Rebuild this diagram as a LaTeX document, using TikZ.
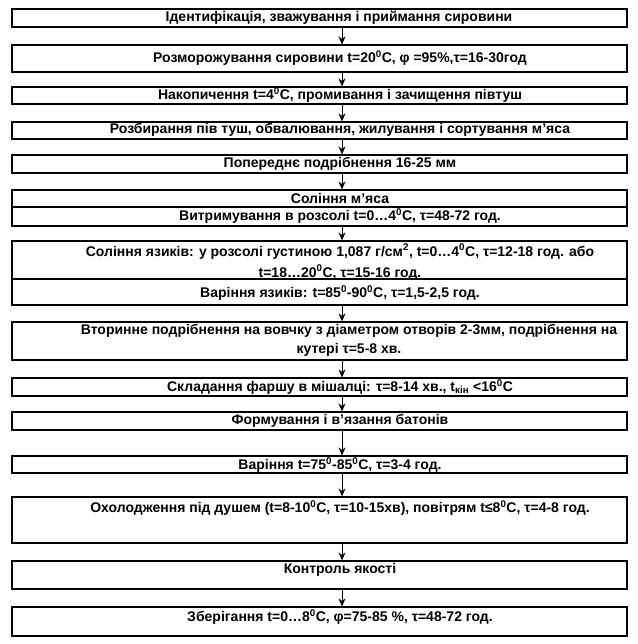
\documentclass[tikz,border=0pt]{standalone}
\usepackage{fontspec}
\setmainfont{Liberation Sans}
\usetikzlibrary{arrows.meta,positioning}
\tikzset{
    stagebox/.style={draw=black,line width=1.2pt,minimum width=615pt,inner sep=0pt},
    stagetext/.style={font=\bfseries\fontsize{14}{19}\selectfont,align=center,inner sep=0pt},
    flowarrow/.style={-{Stealth[length=8pt,width=7pt]},line width=1pt,draw=black}
}

\begin{document}
\begin{tikzpicture}[x=1pt,y=-1pt]
  \useasboundingbox (0,0) rectangle (637,644);

  % вісь стрілок
  \coordinate (ax) at (342,0);

  % рамки етапів: ім'я / верх / низ
  \foreach \n/\t/\b in {b1/9/27,b2/45/72,b3/87/104,b4/122/139,b5/155/173,
      b6/190/207,b7/207/226,b8/241/279,b9/279/305,b10/322/360,b11/378/396,
      b12/412/430,b13/456/473,b14/497/543,b15/561/589,b16/607/636}{
    \node[stagebox,minimum height={\b-\t}] (\n) at (319.5,{(\t+\b)/2}) {};
  }

  % написи
  \node[stagetext] (t1) at (339,18) {Ідентифікація, зважування і приймання сировини};
  \node[stagetext] (t2) at (340,58)
    {Розморожування сировини t=20\textsuperscript{0}С, φ =95\%,τ=16-30год};
  \node[stagetext] (t3) at (340,95)
    {Накопичення t=4\textsuperscript{0}С, промивання і зачищення півтуш};
  \node[stagetext] (t4) at (340,130)
    {Розбирання пів туш, обвалювання, жилування і сортування м’яса};
  \node[stagetext] (t5) at (340,164) {Попереднє подрібнення 16-25 мм};
  \node[stagetext] (t6) at (340,198) {Соління м’яса};
  \node[stagetext] (t7) at (340,216)
    {Витримування в розсолі t=0…4\textsuperscript{0}С, τ=48-72 год.};
  \node[stagetext] (t8) at (340,262)
    {Соління язиків: у розсолі густиною 1,087 г/см\textsuperscript{2}, t=0…4\textsuperscript{0}С, τ=12-18 год. або\\[2pt]
     t=18…20\textsuperscript{0}С, τ=15-16 год.};
  \node[stagetext] (t9) at (340,293)
    {Варіння язиків: t=85\textsuperscript{0}-90\textsuperscript{0}С, τ=1,5-2,5 год.};
  \node[stagetext] (t10) at (349,340.5)
    {Вторинне подрібнення на вовчку з діаметром отворів 2-3мм, подрібнення на\\
     кутері τ=5-8 хв.};
  \node[stagetext] (t11) at (340,387)
    {Складання фаршу в мішалці: τ=8-14 хв., t\textsubscript{кін} <16\textsuperscript{0}С};
  \node[stagetext] (t12) at (340,421) {Формування і в’язання батонів};
  \node[stagetext] (t13) at (340,465)
    {Варіння t=75\textsuperscript{0}-85\textsuperscript{0}С, τ=3-4 год.};
  \node[stagetext] (t14) at (340,508)
    {Охолодження під душем (t=8-10\textsuperscript{0}С, τ=10-15хв), повітрям t≤8\textsuperscript{0}С, τ=4-8 год.};
  \node[stagetext] (t15) at (340,570) {Контроль якості};
  \node[stagetext] (t16) at (340,617)
    {Зберігання t=0…8\textsuperscript{0}С, φ=75-85 \%, τ=48-72 год.};

  % стрілки
  \foreach \a/\b in {b1/b2,b2/b3,b3/b4,b4/b5,b5/b6,b7/b8,b9/b10,
      b10/b11,b11/b12,b12/b13,b13/b14,b14/b15,b15/b16}{
    \draw[flowarrow] (\a.south -| ax) -- (\b.north -| ax);
  }

\end{tikzpicture}
\end{document}
